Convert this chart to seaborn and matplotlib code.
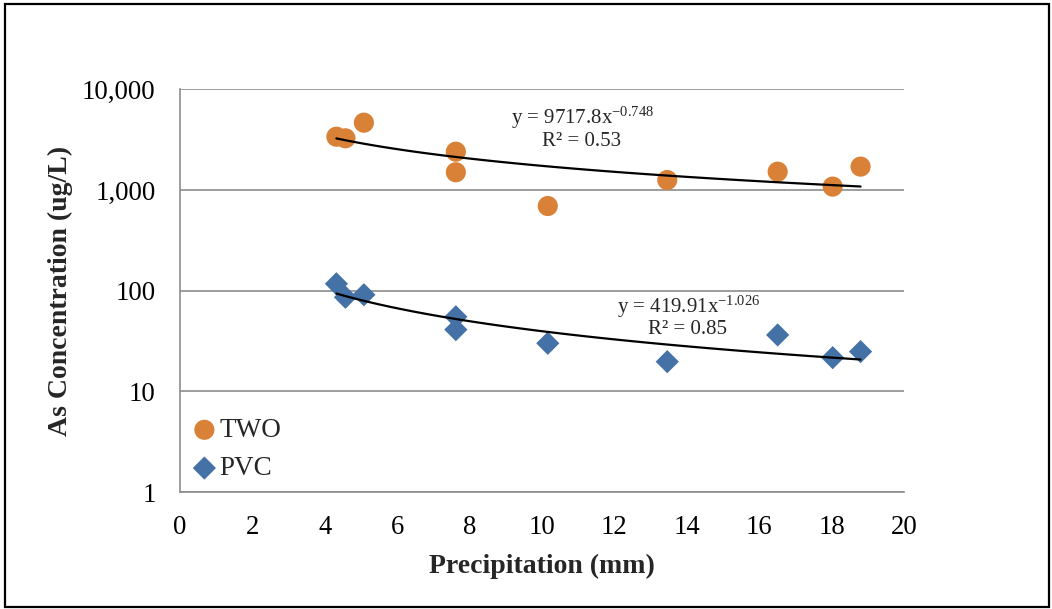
import numpy as np
import pandas as pd
import matplotlib
matplotlib.use("Agg")
import matplotlib.pyplot as plt
from matplotlib.ticker import FixedLocator, FuncFormatter, NullLocator
from matplotlib.patches import Rectangle
import seaborn as sns

# ---- data ----
precip = [4.32, 4.57, 5.08, 7.62, 7.62, 10.16, 13.46, 16.51, 18.03, 18.80]
two_conc = [3380, 3260, 4660, 2400, 1500, 693, 1256, 1520, 1080, 1706]
pvc_conc = [117, 86, 91, 55, 41, 30, 19.7, 36.3, 21.6, 24.8]
two_coef, two_exp, two_r2 = 9717.8, -0.748, 0.53
pvc_coef, pvc_exp, pvc_r2 = 419.91, -1.026, 0.85
x_ticks = [0, 2, 4, 6, 8, 10, 12, 14, 16, 18, 20]
y_ticks = [1, 10, 100, 1000, 10000]

orange = "#DA8138"
blue = "#4471A6"
grid_c = "#8C8C8C"

sns.set_theme(style="white")
plt.rcParams['font.family'] = ['Liberation Serif', 'DejaVu Serif']
plt.rcParams['mathtext.fontset'] = 'custom'
plt.rcParams['mathtext.rm'] = 'Liberation Serif'
plt.rcParams['mathtext.it'] = 'Liberation Serif:italic'
plt.rcParams['mathtext.bf'] = 'Liberation Serif:bold'

fig = plt.figure(figsize=(10.52, 6.09), dpi=100)
ax = fig.add_axes([180/1052, 1-492/609, (904-180)/1052, (492-89.3)/609])

df = pd.DataFrame({
    "x": precip * 2,
    "y": two_conc + pvc_conc,
    "series": ["TWO"] * len(precip) + ["PVC"] * len(precip),
})

# trend lines (power fits, as printed on the chart)
xs = np.linspace(min(precip), max(precip), 100)
trend = pd.DataFrame({
    "x": np.concatenate([xs, xs]),
    "y": np.concatenate([two_coef * xs ** two_exp, pvc_coef * xs ** pvc_exp]),
    "series": ["TWO"] * len(xs) + ["PVC"] * len(xs),
})

sns.scatterplot(data=df[df.series == "TWO"], x="x", y="y", ax=ax, color=orange,
                marker="o", s=210, edgecolor="none", label="TWO", zorder=3)
sns.scatterplot(data=df[df.series == "PVC"], x="x", y="y", ax=ax, color=blue,
                marker="D", s=140, edgecolor="none", label="PVC", zorder=3)
sns.lineplot(data=trend, x="x", y="y", units="series", estimator=None, ax=ax,
             color="black", linewidth=1.6, zorder=4, legend=False)

ax.set_yscale("log")
ax.set_xlim(0, 20)
ax.set_ylim(1, 10000)
ax.xaxis.set_major_locator(FixedLocator(x_ticks))
ax.yaxis.set_major_locator(FixedLocator(y_ticks))
ax.yaxis.set_minor_locator(NullLocator())
ax.yaxis.set_major_formatter(FuncFormatter(lambda v, p: f"{int(round(v)):,}"))
ax.grid(axis="y", color=grid_c, linewidth=1.2)
ax.grid(axis="x", visible=False)
for side in ["top", "right"]:
    ax.spines[side].set_visible(False)
for side in ["left", "bottom"]:
    ax.spines[side].set_color(grid_c)
    ax.spines[side].set_linewidth(1.2)
ax.tick_params(axis="both", which="major", direction="out", length=5, width=1.2,
               color=grid_c, labelsize=19.3, labelcolor="black")
ax.tick_params(axis="y", pad=12.5)
ax.tick_params(axis="x", pad=11.5)

ax.set_xlabel("Precipitation (mm)", fontsize=20, fontweight="bold", labelpad=10)
ax.set_ylabel("As Concentration (ug/L)", fontsize=20, fontweight="bold", labelpad=6.5)

leg = ax.legend(loc="lower left", bbox_to_anchor=(0.0, 0.0), frameon=False,
                fontsize=19.5, handletextpad=0.05, labelspacing=0.49, borderaxespad=0.0,
                handlelength=1.0)

# equation labels
ax.text(583/1052, 1-118/609, r"y = 9717.8x$^{\mathregular{-0.748}}$",
        transform=fig.transFigure, ha="center", va="center", fontsize=15)
ax.text(582/1052, 1-141/609, f"R² = {two_r2:.2f}",
        transform=fig.transFigure, ha="center", va="center", fontsize=15)
ax.text(689/1052, 1-307/609, r"y = 419.91x$^{\mathregular{-1.026}}$",
        transform=fig.transFigure, ha="center", va="center", fontsize=15)
ax.text(688/1052, 1-330/609, f"R² = {pvc_r2:.2f}",
        transform=fig.transFigure, ha="center", va="center", fontsize=15)

fig.patches.append(Rectangle((5/1052, 2/609), (1049-5)/1052, (605-2)/609,
                             transform=fig.transFigure, fill=False,
                             edgecolor="black", linewidth=1.6))

fig.savefig("out.png", dpi=100)
